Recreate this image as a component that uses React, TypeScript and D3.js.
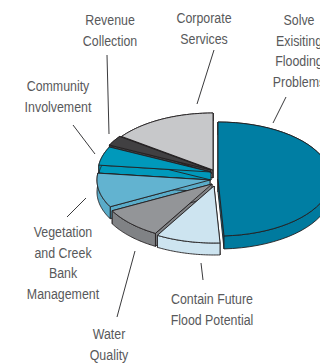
import React from "react";
import * as d3 from "d3";

// Share of the programme budget per category, clockwise from twelve o'clock.
const categories = [
  "Solve Exisiting Flooding Problems",
  "Contain Future Flood Potential",
  "Water Quality",
  "Vegetation and Creek Bank Management",
  "Community Involvement",
  "Revenue Collection",
  "Corporate Services",
];
const shares = [49.2, 9.2, 8.9, 9.7, 5.3, 2.8, 15.0];

// Per-slice appearance and the way each wedge is pulled out of the pie.
const topColors = ["#007ea3", "#cde4f0", "#939598", "#62b3d0", "#0099bb", "#414042", "#c7c8ca"];
const wallColors = ["#007a9e", "#cde4f0", "#808285", "#5aacc9", "#0099bb", "#414042", "#c7c8ca"];
const centersX = [218, 214, 212, 210, 211, 211, 213];
const centersY = [179, 186, 184, 180, 172, 170, 170];
const depths = [13, 12, 13, 12, 8, 4, 8];

// Stacking order for the painter's algorithm: back of the pie first.
const paintOrder = [6, 5, 4, 3, 2, 1, 0];

const labelLines = [
  { lines: ["Solve", "Exisiting", "Flooding", "Problems"], x: 299, y: 25 },
  { lines: ["Contain Future", "Flood Potential"], x: 212, y: 304.5 },
  { lines: ["Water", "Quality"], x: 109, y: 339.5 },
  { lines: ["Vegetation", "and Creek", "Bank", "Management"], x: 63, y: 237 },
  { lines: ["Community", "Involvement"], x: 58, y: 91 },
  { lines: ["Revenue", "Collection"], x: 110, y: 25.5 },
  { lines: ["Corporate", "Services"], x: 204, y: 23.5 },
];

const leaders = [
  [286, 97, 273, 123],
  [201, 263, 203, 280],
  [135, 251, 117, 317],
  [86, 198, 67, 217],
  [73, 125, 95, 154],
  [107, 55, 109, 134],
  [214, 50, 197, 104],
];

const RX = 113;
const RY = 57;
const STROKE = "#231f20";
const FONT = "'Liberation Sans', sans-serif";
const TEXT_CONDENSE = 0.8;

const arcs = d3
  .pie<number>()
  .sort(null)
  .value((d) => d)(shares);

const toPath = d3.line<[number, number]>();

export default function App() {
  return (
    <svg
      width={320}
      height={363}
      viewBox="0 0 320 363"
      style={{ position: "absolute", left: 0, top: 0, background: "#fff" }}
    >
      {paintOrder.map((i) => {
        const arc = arcs[i];
        const cx = centersX[i];
        const cy = centersY[i];
        const depth = depths[i];
        const project = (a: number): [number, number] => [
          cx + RX * Math.sin(a),
          cy - RY * Math.cos(a),
        ];
        const rim = d3
          .range(0, 41)
          .map((k) => project(arc.startAngle + ((arc.endAngle - arc.startAngle) * k) / 40));
        const drop = (p: [number, number]): [number, number] => [p[0], p[1] + depth];
        const apex: [number, number] = [cx, cy];
        const first = rim[0];
        const last = rim[rim.length - 1];
        const walls = [
          [apex, first, drop(first), drop(apex)],
          [apex, last, drop(last), drop(apex)],
          [...rim, ...rim.map(drop).reverse()],
        ] as [number, number][][];
        return (
          <g key={categories[i]} stroke={STROKE} strokeWidth={0.9} strokeLinejoin="round">
            {walls.map((w, j) => (
              <path key={j} d={toPath(w) + "Z"} fill={wallColors[i]} />
            ))}
            <path d={toPath([apex, ...rim]) + "Z"} fill={topColors[i]} />
          </g>
        );
      })}
      {leaders.map((l, i) => (
        <line key={i} x1={l[0]} y1={l[1]} x2={l[2]} y2={l[3]} stroke="#3a3a3c" strokeWidth={1} />
      ))}
      {labelLines.map((label) => (
        <text
          key={label.lines[0]}
          transform={`translate(${label.x},0) scale(${TEXT_CONDENSE},1)`}
          textAnchor="middle"
          fontFamily={FONT}
          fontSize={15.5}
          fill="#58595b"
        >
          {label.lines.map((line, k) => (
            <tspan key={line} x={0} y={label.y + k * 20.6}>
              {line}
            </tspan>
          ))}
        </text>
      ))}
    </svg>
  );
}
